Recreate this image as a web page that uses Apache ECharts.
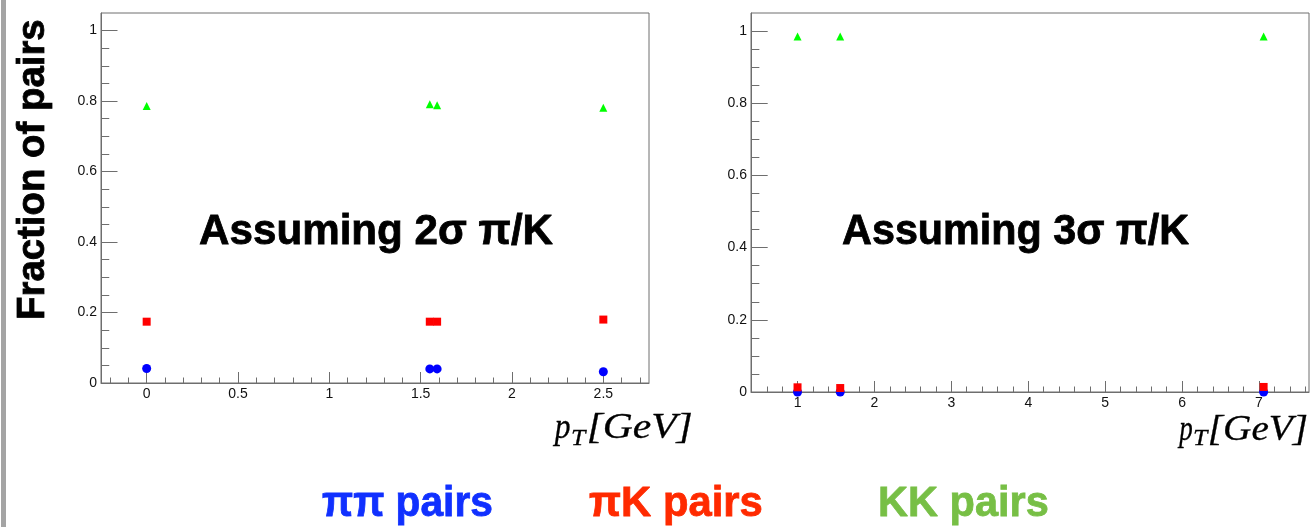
<!DOCTYPE html>
<html><head><meta charset="utf-8">
<script src="https://cdn.jsdelivr.net/npm/echarts@6/dist/echarts.min.js"></script>
<style>html,body{margin:0;padding:0;background:#fff}#c{width:1310px;height:527px}</style>
</head><body><div id="c"></div>
<script>
// ---- data ----
const leftPiPi  = [[0, 0.041], [1.55, 0.040], [1.59, 0.040], [2.5, 0.032]];
const leftPiK   = [[0, 0.174], [1.55, 0.174], [1.59, 0.174], [2.5, 0.180]];
const leftKK    = [[0, 0.786], [1.55, 0.791], [1.59, 0.788], [2.5, 0.781]];
const rightPiPi = [[1.0, 0.0], [1.555, 0.0], [7.06, 0.0]];
const rightPiK  = [[1.0, 0.013], [1.555, 0.011], [7.06, 0.014]];
const rightKK   = [[1.0, 0.985], [1.555, 0.985], [7.06, 0.985]];
const yTicks = [0, 0.2, 0.4, 0.6, 0.8, 1];
const leftXTicks = [0, 0.5, 1, 1.5, 2, 2.5];
const rightXTicks = [1, 2, 3, 4, 5, 6, 7];
const panelTitles = ['Assuming 2σ π/K', 'Assuming 3σ π/K'];
const legendNames = ['ππ pairs', 'πK pairs', 'KK pairs'];
const yTitle = 'Fraction of pairs';

// ---- helpers ----
function minors(min, max, step, majorStep) {
  const out = [];
  const start = Math.ceil(min / step - 1e-9);
  for (let i = start; i * step <= max - 1e-6; i++) {
    const v = +(i * step).toFixed(6);
    if (v <= min + 1e-6) continue;
    const r = v / majorStep;
    if (Math.abs(r - Math.round(r)) > 1e-6) out.push(v);
  }
  return out;
}
const mctx = document.createElement('canvas').getContext('2d');
function ink(text, font) {
  mctx.font = font; mctx.textBaseline = 'alphabetic';
  const m = mctx.measureText(text);
  return { l: -m.actualBoundingBoxLeft, r: m.actualBoundingBoxRight };
}
function midOff(font) {
  mctx.font = font; mctx.textBaseline = 'alphabetic';
  const a = mctx.measureText('H').actualBoundingBoxAscent;
  mctx.textBaseline = 'middle';
  const b = mctx.measureText('H').actualBoundingBoxAscent;
  mctx.textBaseline = 'alphabetic';
  return a - b;
}
function txt(text, font, x0, x1, baseline, color, sw) {
  const k = ink(text, font);
  const s = (x1 - x0) / (k.r - k.l);
  const style = { x: 0, y: 0, text: text, font: font, fill: color,
      textAlign: 'left', textVerticalAlign: 'middle', align: 'left', verticalAlign: 'middle' };
  if (sw) { style.stroke = color; style.lineWidth = sw; }
  return { type: 'text', silent: true, x: x0 - k.l * s, y: baseline - midOff(font), scaleX: s, z: 10, style: style };
}
function vtxt(text, font, yBottom, yTop, baselineX, color, sw) {
  const k = ink(text, font);
  const s = (yBottom - yTop) / (k.r - k.l);
  const style = { x: 0, y: 0, text: text, font: font, fill: color,
      textAlign: 'left', textVerticalAlign: 'middle', align: 'left', verticalAlign: 'middle' };
  if (sw) { style.stroke = color; style.lineWidth = sw; }
  return { type: 'text', silent: true, x: baselineX - midOff(font), y: yBottom + k.l * s,
    rotation: Math.PI / 2, scaleX: s, z: 10, style: style };
}

const frameColor = '#6e6e6e';
const labelStyle = { color: '#111', fontSize: 14, fontFamily: 'Liberation Sans' };
const fmt = v => String(+v.toFixed(3));

function xAxes(grid, min, max, majors, minorStep, majorStep) {
  return [
    { type: 'value', gridIndex: grid, min: min, max: max, position: 'bottom',
      axisLine: { show: true, onZero: false, lineStyle: { color: frameColor, width: 1 } },
      axisTick: { show: true, inside: true, length: 11, customValues: majors, lineStyle: { color: frameColor } },
      axisLabel: Object.assign({ show: true, margin: 4, customValues: majors, formatter: fmt }, labelStyle),
      splitLine: { show: false } },
    { type: 'value', gridIndex: grid, min: min, max: max, position: 'bottom',
      axisLine: { show: false, onZero: false },
      axisTick: { show: true, inside: true, length: 5.5, customValues: minors(min, max, minorStep, majorStep), lineStyle: { color: frameColor } },
      axisLabel: { show: false }, splitLine: { show: false } }
  ];
}
function yAxes(grid, len) {
  return [
    { type: 'value', gridIndex: grid, min: 0, max: 1.05, position: 'left',
      axisLine: { show: true, onZero: false, lineStyle: { color: frameColor, width: 1 } },
      axisTick: { show: true, inside: true, length: len, customValues: yTicks, lineStyle: { color: frameColor } },
      axisLabel: Object.assign({ show: true, margin: 4, customValues: yTicks, formatter: fmt }, labelStyle),
      splitLine: { show: false } },
    { type: 'value', gridIndex: grid, min: 0, max: 1.05, position: 'left',
      axisLine: { show: false, onZero: false },
      axisTick: { show: true, inside: true, length: len / 2, customValues: minors(0, 1.05, 0.05, 0.2), lineStyle: { color: frameColor } },
      axisLabel: { show: false }, splitLine: { show: false } }
  ];
}
function sc(data, xi, yi, symbol, size, color) {
  return { type: 'scatter', data: data, xAxisIndex: xi, yAxisIndex: yi, symbol: symbol, symbolSize: size,
    clip: false, itemStyle: { color: color, borderWidth: 0, opacity: 1 }, silent: true };
}

const boldF = sz => 'bold ' + sz + 'px "Liberation Sans"';
const mathF = sz => 'italic ' + sz + 'px "Liberation Serif"';

const graphics = [
  { type: 'rect', silent: true, shape: { x: 1, y: 0, width: 5, height: 527 }, style: { fill: '#a4a4a4' } },
  vtxt(yTitle, boldF(39), 318, 20, 44, '#000', 0.8),
  txt(panelTitles[0], boldF(43), 200, 553, 244, '#000', 0.8),
  txt(panelTitles[1], boldF(43), 843, 1189, 244, '#000', 0.8),
  txt('p', mathF(35), 552, 570, 438, '#000', 0.3),
  txt('T', mathF(24), 572, 587, 444.5, '#000', 0.3),
  txt('[GeV]', mathF(35), 589, 692, 438, '#000', 0.3),
  txt('p', mathF(36), 1177, 1192, 440, '#000', 0.3),
  txt('T', mathF(24), 1194, 1209, 445, '#000', 0.3),
  txt('[GeV]', mathF(36), 1210, 1307, 440, '#000', 0.3),
  txt(legendNames[0], boldF(43), 322, 492, 516, '#1030ff', 0.8),
  txt(legendNames[1], boldF(43), 589, 762, 516, '#ff2a00', 0.8),
  txt(legendNames[2], boldF(43), 880, 1048, 516, '#77bf45', 0.8)
];

const chart = echarts.init(document.getElementById('c'), null, { renderer: 'canvas' });
chart.setOption({
  animation: false,
  backgroundColor: '#fff',
  grid: [
    { left: 101, top: 13, width: 548, height: 370, show: true, borderColor: frameColor, borderWidth: 1, containLabel: false, outerBoundsMode: 'none' },
    { left: 751, top: 13, width: 558, height: 379, show: true, borderColor: frameColor, borderWidth: 1, containLabel: false, outerBoundsMode: 'none' }
  ],
  xAxis: [].concat(xAxes(0, -0.25, 2.75, leftXTicks, 0.1, 0.5), xAxes(1, 0.395, 7.65, rightXTicks, 0.2, 1)),
  yAxis: [].concat(yAxes(0, 16.5), yAxes(1, 16.7)),
  series: [
    sc(leftPiPi, 0, 0, 'circle', 9, '#0000ff'),
    sc(leftPiK, 0, 0, 'rect', 8, '#ff0000'),
    sc(leftKK, 0, 0, 'triangle', 8, '#00ff00'),
    sc(rightPiPi, 2, 2, 'circle', 9, '#0000ff'),
    sc(rightPiK, 2, 2, 'rect', 8, '#ff0000'),
    sc(rightKK, 2, 2, 'triangle', 8, '#00ff00')
  ],
  graphic: { elements: graphics }
});
</script>
</body></html>
